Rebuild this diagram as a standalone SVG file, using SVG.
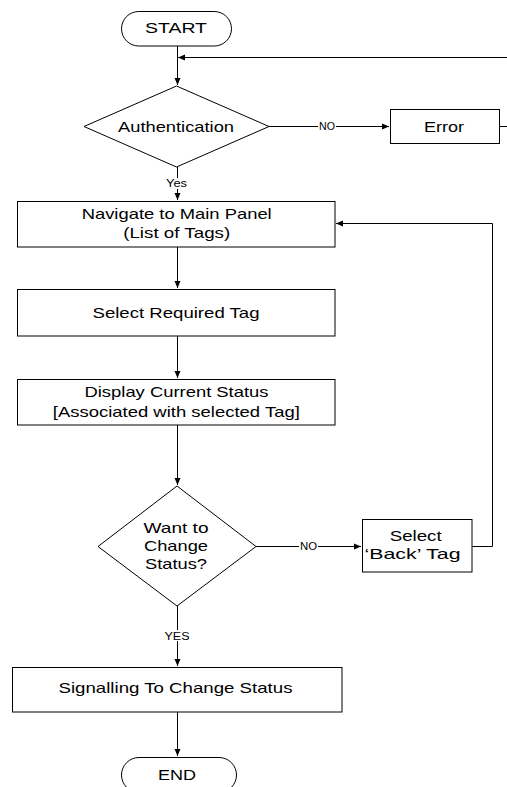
<svg xmlns="http://www.w3.org/2000/svg" width="507" height="787" viewBox="0 0 507 787">
<defs>
<marker id="arr" markerUnits="userSpaceOnUse" markerWidth="8" markerHeight="8" refX="7" refY="3.5" orient="auto">
<path d="M0,0.5 L7,3.5 L0,6.5 z" fill="#000"/>
</marker>
</defs>
<style>
.n{fill:#fff;stroke:#000;stroke-width:1}
.c{fill:none;stroke:#000;stroke-width:1}
.t{font-family:"Liberation Sans",Arial,sans-serif;font-size:15px;fill:#000;text-anchor:middle}
.s{font-family:"Liberation Sans",Arial,sans-serif;font-size:10px;fill:#000;text-anchor:middle}
</style>
<rect width="507" height="787" fill="#fff"/>
<g id="connectors">
<line class="c" x1="177.5" y1="46" x2="177.5" y2="85" marker-end="url(#arr)"/>
<line class="c" x1="510" y1="57.5" x2="178" y2="57.5" marker-end="url(#arr)"/>
<polyline class="c" points="269,126.5 318,126.5"/>
<line class="c" x1="336" y1="126.5" x2="389" y2="126.5" marker-end="url(#arr)"/>
<line class="c" x1="500" y1="126.5" x2="510" y2="126.5"/>
<line class="c" x1="177.5" y1="167" x2="177.5" y2="178"/>
<line class="c" x1="177.5" y1="189" x2="177.5" y2="200" marker-end="url(#arr)"/>
<line class="c" x1="177.5" y1="247" x2="177.5" y2="288" marker-end="url(#arr)"/>
<line class="c" x1="177.5" y1="336" x2="177.5" y2="378" marker-end="url(#arr)"/>
<line class="c" x1="177.5" y1="425" x2="177.5" y2="485" marker-end="url(#arr)"/>
<line class="c" x1="256" y1="546.5" x2="299" y2="546.5"/>
<line class="c" x1="318" y1="546.5" x2="361" y2="546.5" marker-end="url(#arr)"/>
<polyline class="c" points="472,546.5 492.5,546.5 492.5,223.5 336,223.5" marker-end="url(#arr)"/>
<line class="c" x1="177.5" y1="606" x2="177.5" y2="630"/>
<line class="c" x1="177.5" y1="641" x2="177.5" y2="666" marker-end="url(#arr)"/>
<line class="c" x1="177.5" y1="712" x2="177.5" y2="756" marker-end="url(#arr)"/>
<text class="s" x="327" y="130" textLength="16" lengthAdjust="spacingAndGlyphs">NO</text>
<text class="s" x="176.5" y="187" textLength="21" lengthAdjust="spacingAndGlyphs">Yes</text>
<text class="s" x="308.5" y="550" textLength="17" lengthAdjust="spacingAndGlyphs">NO</text>
<text class="s" x="177" y="640" textLength="25" lengthAdjust="spacingAndGlyphs">YES</text>
</g>
<g id="start">
<rect class="n" x="121.5" y="11.5" width="110" height="34.5" rx="17.25"/>
<text class="t" x="176" y="33.3" textLength="62" lengthAdjust="spacingAndGlyphs">START</text>
</g>
<g id="authentication">
<polygon class="n" points="176.5,86 269,126.5 176.5,167 84,126.5"/>
<text class="t" x="176" y="131.6" textLength="116" lengthAdjust="spacingAndGlyphs">Authentication</text>
</g>
<g id="error">
<rect class="n" x="390.5" y="109.5" width="109" height="34"/>
<text class="t" x="444" y="131.7" textLength="40" lengthAdjust="spacingAndGlyphs">Error</text>
</g>
<g id="navigate">
<rect class="n" x="17.5" y="201.5" width="317.5" height="45.5"/>
<text class="t" x="176.7" y="219.3" textLength="190" lengthAdjust="spacingAndGlyphs">Navigate to Main Panel</text>
<text class="t" x="176.7" y="237.8" textLength="107" lengthAdjust="spacingAndGlyphs">(List of Tags)</text>
</g>
<g id="select-tag">
<rect class="n" x="17.5" y="289.5" width="317.5" height="46.5"/>
<text class="t" x="176" y="317.5" textLength="167" lengthAdjust="spacingAndGlyphs">Select Required Tag</text>
</g>
<g id="display-status">
<rect class="n" x="17.5" y="379.5" width="317.5" height="45.5"/>
<text class="t" x="176.5" y="397.3" textLength="184" lengthAdjust="spacingAndGlyphs">Display Current Status</text>
<text class="t" x="176.3" y="416.5" textLength="247" lengthAdjust="spacingAndGlyphs">[Associated with selected Tag]</text>
</g>
<g id="want-change">
<polygon class="n" points="177,486 256,546.5 177,606 98,546.5"/>
<text class="t" x="176" y="532.5" textLength="65" lengthAdjust="spacingAndGlyphs">Want to</text>
<text class="t" x="176" y="551" textLength="64" lengthAdjust="spacingAndGlyphs">Change</text>
<text class="t" x="176" y="569" textLength="62" lengthAdjust="spacingAndGlyphs">Status?</text>
</g>
<g id="select-back">
<rect class="n" x="362.5" y="519.5" width="109.5" height="52.5"/>
<text class="t" x="415.7" y="541" textLength="52" lengthAdjust="spacingAndGlyphs">Select</text>
<text class="t" x="412.5" y="559" textLength="96" lengthAdjust="spacingAndGlyphs">‘Back’ Tag</text>
</g>
<g id="signalling">
<rect class="n" x="12.5" y="667.5" width="329.5" height="44.5"/>
<text class="t" x="175.5" y="693.3" textLength="234" lengthAdjust="spacingAndGlyphs">Signalling To Change Status</text>
</g>
<g id="end">
<rect class="n" x="121.5" y="757.5" width="115" height="35" rx="17.5"/>
<text class="t" x="177" y="780" textLength="38" lengthAdjust="spacingAndGlyphs">END</text>
</g>
</svg>
